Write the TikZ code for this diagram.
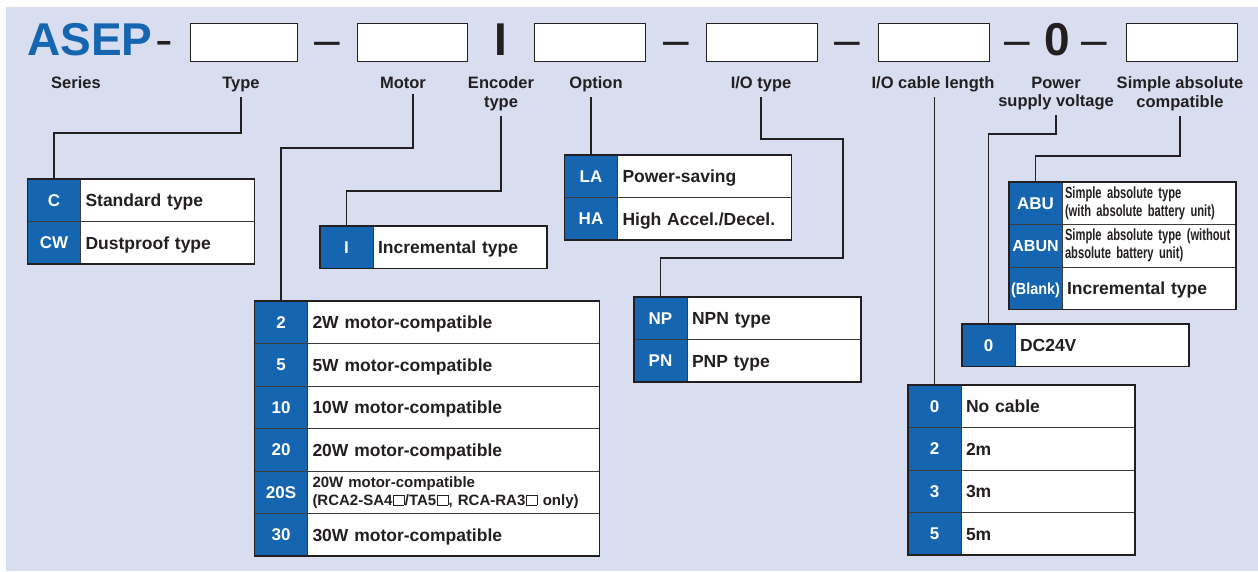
\documentclass[tikz,border=0pt]{standalone}
\usepackage{fontspec}
\setmainfont{Liberation Sans}
\usetikzlibrary{positioning}
\definecolor{bgc}{RGB}{216,222,240}
\definecolor{blueA}{RGB}{22,101,176}
\definecolor{txtc}{RGB}{35,31,32}
\definecolor{cellc}{RGB}{60,60,60}
\newcommand{\lblfont}{\bfseries\fontsize{16.5}{18.5}\selectfont}
\newcommand{\cellfont}{\bfseries\fontsize{17.5}{19}\selectfont}
\newcommand{\codefont}{\bfseries\fontsize{17}{19}\selectfont}
\newcommand{\bigfont}{\fontsize{46}{46}\selectfont}
\newcommand{\absfont}{\bfseries\addfontfeature{FakeStretch=0.69}\fontsize{16.2}{18}\selectfont}
\newcommand{\blankfont}{\bfseries\addfontfeature{FakeStretch=0.9}\fontsize{16}{18}\selectfont}
\newcommand{\sqbox}{\hspace{0.6pt}{\setlength{\fboxsep}{0pt}\setlength{\fboxrule}{0.6pt}\fbox{\rule{0pt}{10pt}\rule{10pt}{0pt}}}\hspace{0.6pt}}

\begin{document}
\begin{tikzpicture}[x=1pt, y=-1pt, node distance=0pt]
\tikzset{
  hdrbox/.style={draw=txtc, line width=1.4pt, fill=white, anchor=north west, minimum width=111pt, minimum height=38pt, inner sep=0pt},
  sepsym/.style={font=\bigfont, text=txtc, anchor=base, inner sep=0pt},
  bigsym/.style={font=\bigfont\bfseries, text=txtc, anchor=base, inner sep=0pt},
  lbl/.style={font=\lblfont, text=txtc, align=center, anchor=north, inner sep=0pt, outer sep=5pt},
  codecell/.style={draw=cellc, line width=1pt, fill=blueA, text=white, font=\codefont, minimum width=53pt, minimum height=42.5pt, inner sep=0pt, outer sep=0pt, text height=12.3pt, text depth=0pt},
  desccell/.style={draw=cellc, line width=1pt, fill=white, text=txtc, font=\cellfont, minimum height=42.5pt, text width=164pt, inner xsep=5pt, inner ysep=0pt, align=left, outer sep=0pt, text height=12.6pt, text depth=0pt},
  widecell/.style={text width=282pt},
  twoline/.style={text height=, text depth=},
  abscell/.style={twoline, font=\absfont, text width=168pt, inner xsep=3pt},
  frame/.style={draw=txtc, line width=1.8pt},
  conn/.style={draw=txtc, line width=1.2pt}
}
\useasboundingbox (0,0) rectangle (1258,571);
\fill[bgc] (6,7) rectangle (1258,571);

\node[font=\bigfont\bfseries, text=blueA, anchor=base west, inner sep=0pt] (asep) at (27,55) {ASEP};
\node[sepsym, xscale=1.15] (d0) at (164,55) {-};
\node[hdrbox, minimum width=107pt] (b1) at (190,23) {};
\node[sepsym] (d1) at (327,55) {\textendash};
\node[hdrbox, minimum width=110pt] (b2) at (357,23) {};
\node[bigsym] (encI) at (501,55) {I};
\node[hdrbox] (b3) at (534,23) {};
\node[sepsym] (d2) at (676,55) {\textendash};
\node[hdrbox] (b4) at (706,23) {};
\node[sepsym] (d3) at (847.5,55) {\textendash};
\node[hdrbox] (b5) at (878,23) {};
\node[sepsym] (d4) at (1017,55) {\textendash};
\node[bigsym] (pw0) at (1057.5,55) {0};
\node[sepsym] (d5) at (1094.5,55) {\textendash};
\node[hdrbox] (b6) at (1126,23) {};

\node[lbl] (lSeries) at (76,72) {Series};
\node[lbl] (lType) at (241,72) {Type};
\node[lbl] (lMotor) at (403,72) {Motor};
\node[lbl] (lEnc) at (501,72) {Encoder\\type};
\node[lbl] (lOpt) at (596,72) {Option};
\node[lbl] (lIO) at (761,72) {I/O type};
\node[lbl] (lCable) at (933,72) {I/O cable length};
\node[lbl] (lPow) at (1056,72) {Power\\supply voltage};
\node[lbl] (lAbs) at (1180,72) {Simple absolute\\compatible};

\node[codecell, anchor=north west] (cC) at (27.5,179) {C};
\node[desccell, right=0pt of cC] (dC) {Standard type};
\node[codecell, below=0pt of cC] (cCW) {CW};
\node[desccell, right=0pt of cCW] (dCW) {Dustproof type};

\node[codecell, anchor=north west] (cI) at (320,226) {I};
\node[desccell, right=0pt of cI] (dI) {Incremental type};

\node[codecell, anchor=north west] (cLA) at (564.5,155) {LA};
\node[desccell, right=0pt of cLA] (dLA) {Power-saving};
\node[codecell, below=0pt of cLA] (cHA) {HA};
\node[desccell, right=0pt of cHA] (dHA) {High Accel./Decel.};

\node[codecell, anchor=north west] (mot2) at (254.5,301) {2};
\node[desccell, widecell, right=0pt of mot2] (motd2) {2W motor-compatible};
\node[codecell, below=0pt of mot2] (mot5) {5};
\node[desccell, widecell, right=0pt of mot5] (motd5) {5W motor-compatible};
\node[codecell, below=0pt of mot5] (mot10) {10};
\node[desccell, widecell, right=0pt of mot10] (motd10) {10W motor-compatible};
\node[codecell, below=0pt of mot10] (mot20) {20};
\node[desccell, widecell, right=0pt of mot20] (motd20) {20W motor-compatible};
\node[codecell, below=0pt of mot20] (mot20S) {20S};
\node[desccell, widecell, twoline, font=\bfseries\fontsize{15}{18}\selectfont, right=0pt of mot20S] (motd20S) {20W motor-compatible\\(RCA2-SA4\sqbox/TA5\sqbox, RCA-RA3\sqbox{} only)};
\node[codecell, below=0pt of mot20S] (mot30) {30};
\node[desccell, widecell, right=0pt of mot30] (motd30) {30W motor-compatible};

\node[codecell, anchor=north west] (cNP) at (634,297) {NP};
\node[desccell, right=0pt of cNP] (dNP) {NPN type};
\node[codecell, below=0pt of cNP] (cPN) {PN};
\node[desccell, right=0pt of cPN] (dPN) {PNP type};

\node[codecell, anchor=north west] (cABU) at (1009,182) {ABU};
\node[desccell, abscell, right=0pt of cABU] (dABU) {Simple absolute type\\(with absolute battery unit)};
\node[codecell, font=\bfseries\fontsize{16}{18}\selectfont, below=0pt of cABU] (cABUN) {ABUN};
\node[desccell, abscell, right=0pt of cABUN] (dABUN) {Simple absolute type (without\\absolute battery unit)};
\node[codecell, font=\blankfont, below=0pt of cABUN] (cBlank) {(Blank)};
\node[desccell, right=0pt of cBlank] (dBlank) {Incremental type};

\node[codecell, anchor=north west] (cDC) at (962,324) {0};
\node[desccell, right=0pt of cDC] (dDC) {DC24V};

\node[codecell, anchor=north west] (cab0) at (908,385) {0};
\node[desccell, right=0pt of cab0] (cabd0) {No cable};
\node[codecell, below=0pt of cab0] (cab2) {2};
\node[desccell, right=0pt of cab2] (cabd2) {2m};
\node[codecell, below=0pt of cab2] (cab3) {3};
\node[desccell, right=0pt of cab3] (cabd3) {3m};
\node[codecell, below=0pt of cab3] (cab5) {5};
\node[desccell, right=0pt of cab5] (cabd5) {5m};

\draw[frame] (cC.north west) rectangle (dCW.south east);
\draw[frame] (cI.north west) rectangle (dI.south east);
\draw[frame] (cLA.north west) rectangle (dHA.south east);
\draw[frame] (mot2.north west) rectangle (motd30.south east);
\draw[frame] (cNP.north west) rectangle (dPN.south east);
\draw[frame] (cABU.north west) rectangle (dBlank.south east);
\draw[frame] (cDC.north west) rectangle (dDC.south east);
\draw[frame] (cab0.north west) rectangle (cabd5.south east);

\draw[conn] (lType.south) |- (cC.north |- 0,133) -- (cC.north);
\draw[conn] ([xshift=10pt]lMotor.south) |- (mot2.north |- 0,148) -- (mot2.north);
\draw[conn] (lEnc.south) |- (cI.north |- 0,191) -- (cI.north);
\draw[conn] (lOpt.south -| cLA.north) -- (cLA.north);
\draw[conn] (lIO.south) |- (843,139) |- (cNP.north |- 0,258) -- (cNP.north);
\draw[conn] (lCable.south -| cab0.north) -- (cab0.north);
\draw[conn] (lPow.south) |- (cDC.north |- 0,134) -- (cDC.north);
\draw[conn] (lAbs.south) |- (cABU.north |- 0,156) -- (cABU.north);
\end{tikzpicture}
\end{document}
